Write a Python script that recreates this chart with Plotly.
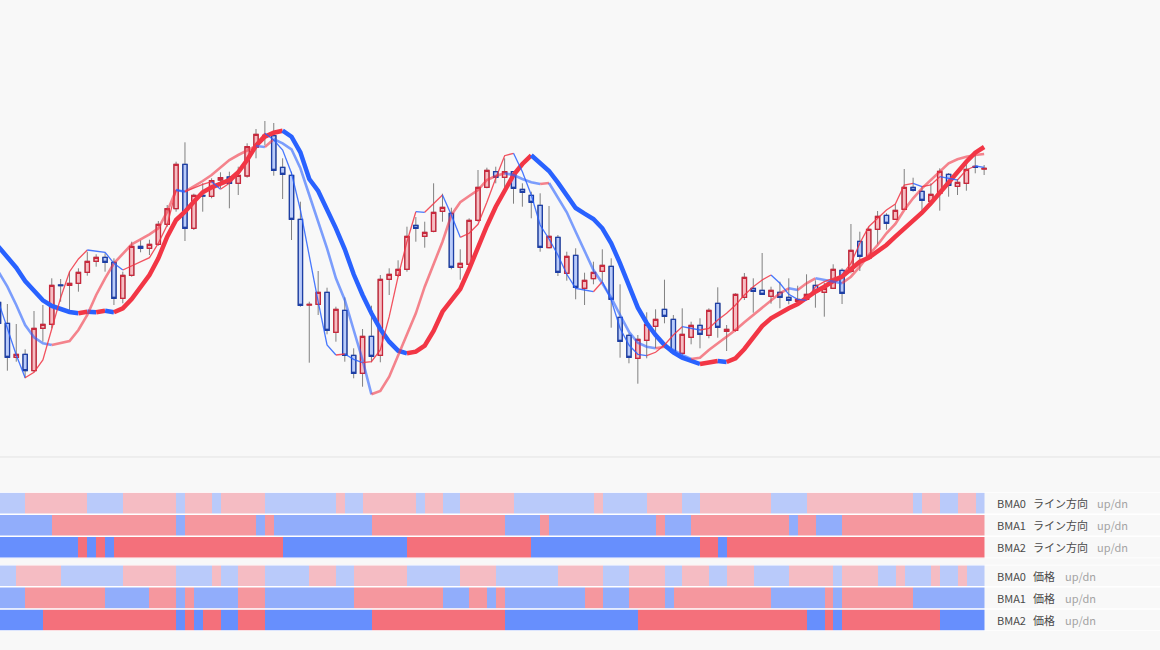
import plotly.graph_objects as go

# candle data (arbitrary price units), one entry per bar
opens = [157.7, 136.7, 102.7, 105.7, 89.3, 131.7, 135.7, 175, 174.7, 176.7,
         187.7, 198.7, 202.7, 197.7, 161.7, 184.7, 213.7, 211.7, 215.7, 235.7,
         251.3, 295.7, 231.7, 264.7, 263.7, 280, 283, 276.7, 284, 312.7,
         323.7, 324.3, 292.7, 284.7, 240.7, 155, 155.7, 167.7, 127.7, 149.7,
         104.7, 86.7, 123.7, 104.7, 180.7, 184.7, 190.7, 234.7, 223.7, 228.7,
         248.7, 246.7, 192.7, 195.7, 239.7, 272.7, 288.3, 282.7, 288.3, 270.7,
         264.7, 254.7, 212.3, 222.7, 186.7, 204.7, 171.7, 181.3, 188.7, 193.7,
         142.7, 124.7, 101.7, 119.7, 133.7, 150.7, 140.7, 106.7, 122.7, 134.7,
         124.7, 156.7, 128.7, 129.7, 162.7, 171.7, 169.7, 163.7, 167.7, 162.7,
         158.7, 160.7, 174.7, 167.7, 171.7, 189.7, 188.7, 218.7, 201.7, 230.7,
         244.7, 240.7, 250.7, 272.7, 268.7, 258.7, 266.7, 285.7, 273.7, 276.7,
         293.7, 291]
highs = [161.7, 156, 136, 110.7, 149, 155, 181.7, 181, 188.3, 191.7,
         208.3, 205.7, 206.7, 201.7, 188.3, 218.3, 219.7, 220.3, 239, 255,
         298.3, 317.7, 266.3, 276.7, 281.7, 287.7, 288.3, 293.3, 316.7, 331,
         339, 337, 301.7, 288.3, 258.3, 158.3, 189, 172.3, 153.3, 162.7,
         111.7, 131, 154.3, 185, 191.7, 199.7, 233.3, 243, 238.3, 276.7,
         266.3, 252.3, 210.7, 241.7, 290, 292.3, 293.3, 301.7, 289, 276.7,
         268.3, 266.7, 254, 225, 208.3, 211.7, 187.3, 198.3, 210.7, 201.7,
         175.7, 126.7, 125, 147.7, 150.7, 180.3, 145, 151.7, 138.3, 141.7,
         151.7, 172.7, 135, 166.7, 187, 181.7, 207, 173.3, 178.3, 181.7,
         174.3, 185.7, 179.7, 177.3, 195.7, 191.7, 236, 228.3, 233, 249,
         246.7, 255.7, 291, 282.3, 273.3, 276.7, 291.7, 287, 281, 295.7,
         308.3, 295]
lows = [135, 89.3, 98.3, 81.7, 87.7, 118.3, 131.7, 158.3, 148.3, 168.3,
        184.3, 193.3, 188.3, 155, 156.7, 183.3, 207.7, 205, 214.3, 233.3,
        248.3, 219, 230, 248.3, 261.7, 271.7, 251.7, 265, 282.3, 301.7,
        315, 284.3, 261, 220, 153.3, 97.3, 145, 125.7, 118.3, 98.3,
        81.7, 73.3, 97.7, 97.7, 165, 183, 188.3, 218.3, 212.3, 227.7,
        238.3, 190.7, 180.3, 194.3, 238.3, 271.7, 276.7, 271.7, 256.3, 253.3,
        241.7, 208.3, 211.7, 184, 179.3, 160.7, 155, 175.7, 178.3, 132.3,
        102.3, 96.7, 76.3, 101.7, 111.7, 136.7, 105.7, 103.3, 115.7, 111.7,
        121.7, 122.3, 109, 128.3, 160, 147.3, 165, 156.3, 151.7, 155.7,
        158.3, 160, 152.3, 143.3, 171, 156, 186.7, 189, 201, 215.7,
        230.3, 240, 250, 268.3, 248.3, 255.7, 249.3, 263.3, 265, 269.3,
        286.7, 285]
closes = [136.7, 102.7, 105.7, 89.3, 131.7, 135.7, 174.7, 174.3, 176.7, 187.7,
          198.7, 202.7, 197.7, 161.7, 184.7, 213.7, 211.7, 215.7, 235.7, 251.3,
          295.7, 231.7, 264.7, 264, 279.3, 282.3, 276.7, 284.7, 313.3, 325.7,
          324.7, 289.7, 285.7, 240.7, 154.7, 155.7, 167.7, 129.7, 150.7, 104.7,
          86.7, 123.7, 103.7, 180.7, 185.7, 190.7, 223.7, 231.7, 227.7, 247.7,
          252.7, 192.7, 196.7, 239.7, 272.7, 289.7, 282.7, 288.3, 271.7, 267.7,
          257.7, 212.7, 223.7, 187.7, 203.7, 172.7, 179.7, 187.7, 194.7, 160.7,
          118.7, 102.7, 120.7, 135.7, 140.7, 143.7, 107.7, 125.7, 134.7, 125.7,
          149.7, 132.7, 130.7, 165.7, 182.7, 168.7, 165.7, 169.7, 162.7, 159.7,
          160.7, 165.7, 168.7, 171.7, 190.7, 166.7, 209.7, 203.7, 230.7, 243.7,
          236.7, 249.7, 272.7, 269.7, 259.7, 265.7, 288.7, 274.7, 277.7, 290.7,
          292.7, 291.7]

# the three moving averages (fast, middle, slow)
bma0 = [158.3, 131.7, 105, 82.3, 87.7, 100, 131.7, 162.3, 188.3, 201,
        210, 209, 207.7, 196.7, 190, 194.3, 198.3, 202.3, 216.7, 235,
        270, 268.3, 272.3, 275.7, 278.3, 270.7, 276.7, 285.7, 301.7, 316.7,
        326.7, 320, 310, 286.7, 250, 203.3, 158.3, 115, 105, 106,
        100.7, 97.3, 98.3, 110, 143.3, 183.3, 218.3, 248.3, 247.7, 256.7,
        265, 245, 222.7, 226.7, 235.7, 257.7, 281.7, 304.3, 306.7, 288.3,
        265, 235, 221, 205, 185.7, 171.7, 170, 168.3, 178.3, 160,
        131.7, 115, 105.7, 104.3, 107.7, 115, 125, 133.3, 131.7, 130,
        131.7, 140, 146.7, 155, 165, 173.3, 180, 185, 176.7, 165.7,
        160.7, 159.7, 173.3, 178.3, 181.7, 185, 196.7, 216.7, 233.3, 241.7,
        250, 256, 275, 276.7, 273.3, 275, 283.3, 281.7, 280, 290,
        294, 292.7]
bma1 = [188.3, 173.3, 155, 135, 122.7, 116.7, 115, 116.7, 119, 130,
        145, 165, 181.7, 196.7, 206.7, 215.7, 220.7, 225.7, 231.7, 248.3,
        270, 268.3, 273.3, 279, 285, 292.7, 300, 305, 309.3, 314,
        313, 320.7, 316.7, 310.7, 291.7, 265, 238.3, 211.7, 181.7, 160,
        130, 100, 65.7, 69, 83.3, 105, 125, 146.7, 173.3, 195,
        218.3, 245, 257.7, 264, 270, 280, 284, 286.7, 285, 281,
        277.7, 276, 277, 262.3, 247.7, 228.3, 208.3, 190, 176.7, 162.3,
        145, 128.3, 117.3, 113.3, 111.7, 113.3, 110, 105, 101, 102.3,
        110, 116.7, 123.3, 130, 137.7, 145, 152.3, 160, 166.7, 171.7,
        170, 176.7, 181.7, 180, 178.3, 176.7, 183.3, 193.3, 205, 215,
        226.7, 236, 250, 261.7, 271.7, 280, 288.3, 296.7, 300.7, 303.3,
        305, 306]
bma2 = [213.3, 203.3, 192.3, 179, 169, 159.7, 154, 150.7, 148, 146.7,
        148.3, 147.7, 149.3, 147.7, 151.7, 161, 172.7, 185, 201.7, 223.3,
        240, 248.3, 258.3, 267.7, 272.7, 276, 280, 287.7, 300, 314.3,
        323.3, 327.3, 329.3, 323.3, 307.7, 281, 269, 251, 231.7, 210.7,
        185.7, 165, 146.7, 131, 118.3, 109.3, 106.7, 108.3, 114.3, 129,
        148.3, 159.3, 171, 191, 214, 234, 253.3, 270, 285, 296,
        304.7, 297.3, 289, 277.3, 265, 252, 246.3, 241, 231.7, 216.7,
        196.7, 174.3, 152.3, 137, 125, 115, 107.7, 102.3, 99.3, 96,
        97.7, 99, 98, 101.7, 111, 123.3, 134, 141.7, 147, 151.7,
        156, 162.7, 168.3, 173.3, 179, 183.3, 191, 198.3, 202.3, 208.3,
        215, 223.3, 231, 239, 247.3, 256.7, 267.3, 277.3, 287.3, 298.3,
        307.3, 313]

# up/dn state strips, stored as runs of (state, number of cells)
line_dir = {
    "BMA0": [("d", 3), ("u", 7), ("d", 4), ("u", 6), ("d", 1), ("u", 3), ("d", 1), ("u", 5),
             ("d", 8), ("u", 1), ("d", 2), ("u", 6), ("d", 1), ("u", 2), ("d", 2), ("u", 6),
             ("d", 9), ("u", 1), ("d", 5), ("u", 4), ("d", 2), ("u", 8), ("d", 4), ("u", 12),
             ("d", 1), ("u", 2), ("d", 2), ("u", 2), ("d", 1)],
    "BMA1": [("d", 6), ("u", 14), ("d", 1), ("u", 8), ("d", 1), ("u", 1), ("d", 11), ("u", 15),
             ("d", 4), ("u", 1), ("d", 12), ("u", 1), ("d", 3), ("u", 11), ("d", 1), ("u", 2),
             ("d", 3), ("u", 16)],
    "BMA2": [("d", 9), ("u", 1), ("d", 1), ("u", 1), ("d", 1), ("u", 19), ("d", 14), ("u", 14),
             ("d", 19), ("u", 2), ("d", 1), ("u", 29)],
}
price_side = {
    "BMA0": [("d", 2), ("u", 5), ("d", 7), ("u", 6), ("d", 4), ("u", 1), ("d", 2), ("u", 3),
             ("d", 5), ("u", 3), ("d", 2), ("u", 6), ("d", 6), ("u", 4), ("d", 7), ("u", 5),
             ("d", 3), ("u", 4), ("d", 2), ("u", 3), ("d", 2), ("u", 3), ("d", 4), ("u", 5),
             ("d", 1), ("u", 4), ("d", 2), ("u", 1), ("d", 3), ("u", 1), ("d", 2), ("u", 1),
             ("d", 2)],
    "BMA1": [("d", 3), ("u", 9), ("d", 5), ("u", 3), ("d", 1), ("u", 1), ("d", 5), ("u", 3),
             ("d", 10), ("u", 10), ("d", 3), ("u", 2), ("d", 1), ("u", 1), ("d", 9), ("u", 2),
             ("d", 3), ("u", 4), ("d", 1), ("u", 11), ("d", 6), ("u", 1), ("d", 1), ("u", 8),
             ("d", 8)],
    "BMA2": [("d", 5), ("u", 15), ("d", 1), ("u", 1), ("d", 1), ("u", 2), ("d", 2), ("u", 3),
             ("d", 12), ("u", 15), ("d", 15), ("u", 19), ("d", 2), ("u", 1), ("d", 1), ("u", 11),
             ("d", 5)],
}

UP = "#f23645"
DN = "#2962ff"
BG = "#f8f8f8"
W, H = 1160, 650

n = len(opens)
xs = list(range(n))

fig = go.Figure()


def seg_color(v, i):
    # colour of the piece between bar i and bar i+1
    return UP if v[i + 1] > v[i] else DN


def add_ma(values, width, opacity):
    start = 0
    for i in range(n - 1):
        if i == n - 2 or seg_color(values, i + 1) != seg_color(values, i):
            end = i + 1
            fig.add_trace(go.Scatter(
                x=xs[start:end + 1], y=values[start:end + 1], mode="lines",
                line=dict(color=seg_color(values, i), width=width),
                opacity=opacity, hoverinfo="skip", showlegend=False,
            ))
            start = end


add_ma(bma2, 4.5, 1.0)
add_ma(bma1, 2.6, 0.6)
add_ma(bma0, 1.3, 0.85)

# wicks in grey
fig.add_trace(go.Candlestick(
    x=xs, open=opens, high=highs, low=lows, close=closes,
    increasing=dict(line=dict(color="#808080", width=1), fillcolor="rgba(0,0,0,0)"),
    decreasing=dict(line=dict(color="#808080", width=1), fillcolor="rgba(0,0,0,0)"),
    hoverinfo="skip", showlegend=False,
))
# bodies on top with coloured borders
fig.add_trace(go.Candlestick(
    x=xs, open=opens, close=closes,
    high=[max(o, c) for o, c in zip(opens, closes)],
    low=[min(o, c) for o, c in zip(opens, closes)],
    increasing=dict(line=dict(color="#c8283c", width=1.3), fillcolor="rgba(242,54,69,0.3)"),
    decreasing=dict(line=dict(color="#1d3fa6", width=1.3), fillcolor="rgba(41,98,255,0.3)"),
    hoverinfo="skip", showlegend=False,
))


def expand(runs):
    out = []
    for state, count in runs:
        out += [1 if state == "u" else 0] * count
    return out


row_colors = [("#b9cafa", "#f5bcc3"), ("#91adfb", "#f5979e"), ("#678ffd", "#f4707b")]
names = ["BMA0", "BMA1", "BMA2"]

for axis, group in (("y2", line_dir), ("y3", price_side)):
    for row, name in enumerate(names):
        dn_c, up_c = row_colors[row]
        fig.add_trace(go.Heatmap(
            x=xs, y=[row], z=[expand(group[name])],
            colorscale=[[0, dn_c], [0.5, dn_c], [0.5, up_c], [1, up_c]],
            zmin=0, zmax=1, showscale=False, hoverinfo="skip",
            xaxis="x", yaxis=axis,
        ))

# white separators between strip rows (full width)
for axis in ("y2", "y3"):
    for edge in (-0.5, 0.5, 1.5, 2.5):
        fig.add_shape(type="line", xref="paper", x0=0, x1=1, yref=axis, y0=edge, y1=edge,
                      line=dict(color="white", width=1.5), layer="above")

# pane separator under the price chart
fig.add_shape(type="line", xref="paper", yref="paper", x0=0, x1=1,
              y0=1 - 457 / H, y1=1 - 457 / H, line=dict(color="#e3e3e3", width=1))

# labels on the right of the strips
font = "Noto Sans CJK JP"
for axis, kind, ud_x in (("y2", "ライン方向", 1095), ("y3", "価格", 1063)):
    for row, name in enumerate(names):
        for text, px, col in ((name, 995, "#4a4a4a"), (kind, 1031, "#4a4a4a"), ("up/dn", ud_x, "#a3a3a3")):
            fig.add_annotation(x=px / W, xref="paper", y=row, yref=axis, text=text,
                               showarrow=False, xanchor="left", yanchor="middle",
                               font=dict(family=font, size=11, color=col))

fig.update_layout(
    width=W, height=H,
    margin=dict(l=0, r=0, t=0, b=0),
    paper_bgcolor=BG, plot_bgcolor=BG,
    showlegend=False,
    boxgap=0.3,
    xaxis=dict(domain=[0, 990 / W], range=[0.17, 111.66], visible=False,
               rangeslider=dict(visible=False)),
    yaxis=dict(domain=[1 - 457 / H, 1], range=[3, 460], visible=False),
    yaxis2=dict(domain=[1 - 558.3 / H, 1 - 492.3 / H], range=[2.5, -0.5], visible=False, anchor="x"),
    yaxis3=dict(domain=[1 - 631 / H, 1 - 564.7 / H], range=[2.5, -0.5], visible=False, anchor="x"),
)

# drop the page's default body margin so the figure fills the window
fig.write_html("out.html", config={"displayModeBar": False},
               post_script="document.body.style.margin = '0';")
